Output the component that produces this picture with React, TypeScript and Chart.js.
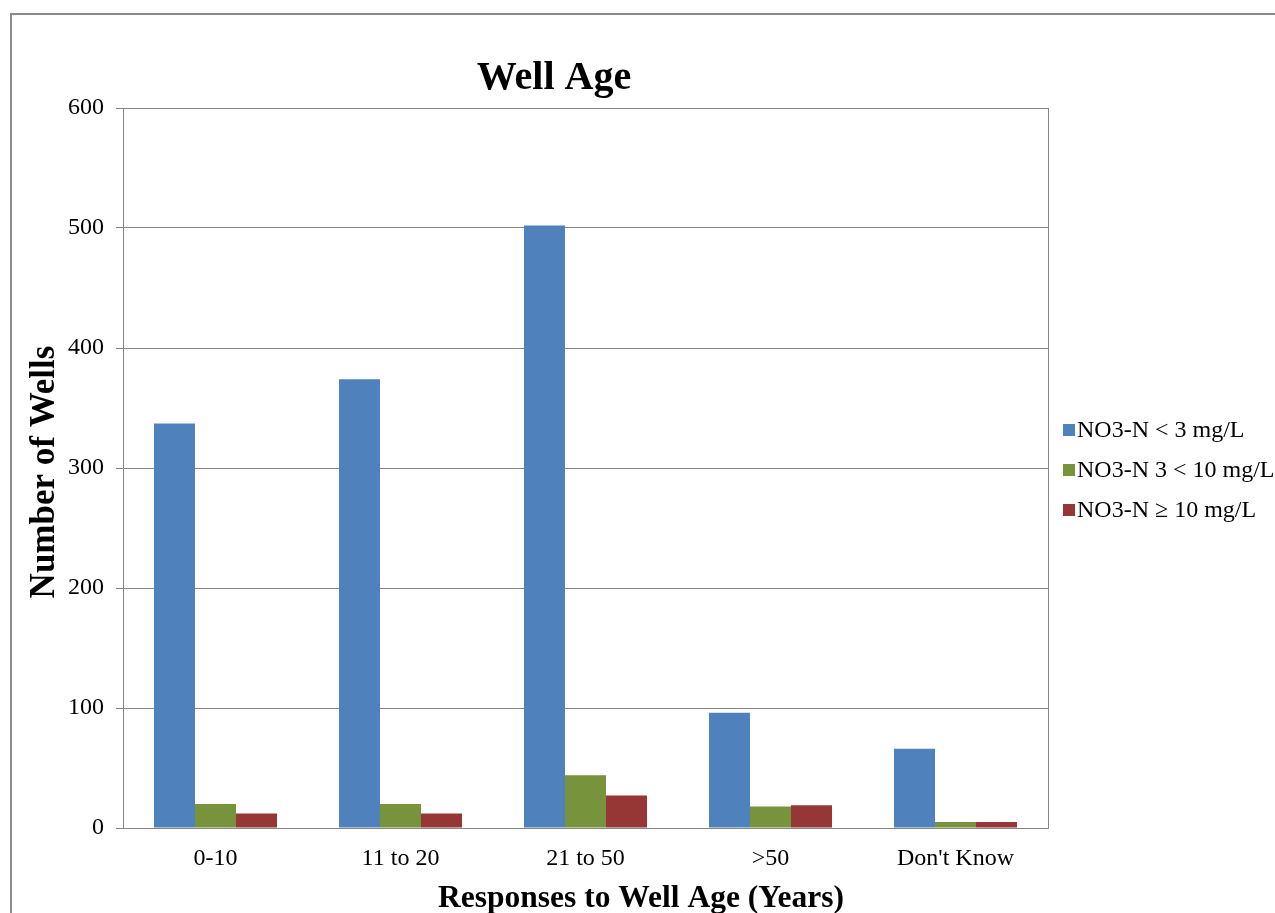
import React, { useEffect, useRef } from "react";
import { Chart, registerables } from "chart.js";

Chart.register(...registerables);

const categories = ["0-10", "11 to 20", "21 to 50", ">50", "Don't Know"];
const seriesNames = ["NO3-N < 3 mg/L", "NO3-N 3 < 10 mg/L", "NO3-N \u2265 10 mg/L"];
const lowValues = [337, 374, 502, 96, 66];
const midValues = [20, 20, 44, 18, 5];
const highValues = [12, 12, 27, 19, 5];
const seriesColors = ["#4f81bd", "#77933c", "#963735"];
const yTicks = [0, 100, 200, 300, 400, 500, 600];

const chartTitle = "Well Age";
const xTitle = "Responses to Well Age (Years)";
const yTitle = "Number of Wells";
const SERIF = "'Liberation Serif', 'Times New Roman', serif";

const decorPlugin = {
  id: "decor",
  afterDraw(chart: any) {
    const ctx = chart.ctx as CanvasRenderingContext2D;
    const a = chart.chartArea;
    ctx.save();
    // outer frame
    ctx.strokeStyle = "#8a8a8a";
    ctx.lineWidth = 2;
    ctx.beginPath();
    ctx.moveTo(11, 913);
    ctx.lineTo(11, 14);
    ctx.lineTo(1275, 14);
    ctx.stroke();
    // plot right border
    ctx.strokeStyle = "#868686";
    ctx.lineWidth = 1;
    ctx.beginPath();
    ctx.moveTo(Math.round(a.right) + 0.5, a.top);
    ctx.lineTo(Math.round(a.right) + 0.5, a.bottom);
    ctx.stroke();
    // title
    ctx.fillStyle = "#000";
    ctx.textAlign = "center";
    ctx.textBaseline = "alphabetic";
    ctx.font = `bold 40px ${SERIF}`;
    ctx.fillText(chartTitle, 554, 89);
    // x title
    ctx.font = `bold 31.5px ${SERIF}`;
    ctx.fillText(xTitle, 641, 907);
    // y title
    ctx.save();
    ctx.translate(54, 472);
    ctx.rotate(-Math.PI / 2);
    ctx.font = `bold 35px ${SERIF}`;
    ctx.fillText(yTitle, 0, 0);
    ctx.restore();
    // legend
    ctx.textAlign = "left";
    ctx.textBaseline = "middle";
    ctx.font = `24px ${SERIF}`;
    const rows = [430, 470, 510];
    seriesNames.forEach((name, i) => {
      ctx.fillStyle = seriesColors[i];
      ctx.fillRect(1063, rows[i] - 6, 12, 12);
      ctx.fillStyle = "#000";
      ctx.fillText(name, 1077, rows[i] + 1);
    });
    ctx.restore();
  },
};

export default function App() {
  const ref = useRef<HTMLCanvasElement | null>(null);
  useEffect(() => {
    if (!ref.current) return;
    const chart = new Chart(ref.current, {
      type: "bar",
      data: {
        labels: categories,
        datasets: [lowValues, midValues, highValues].map((d, i) => ({
          label: seriesNames[i],
          data: d,
          backgroundColor: seriesColors[i],
          categoryPercentage: 0.665,
          barPercentage: 1,
        })),
      },
      options: {
        responsive: false,
        animation: false,
        devicePixelRatio: 1,
        layout: { padding: { left: 0, top: 108, right: 227, bottom: 0 } },
        plugins: {
          legend: { display: false },
          title: { display: false },
          tooltip: { enabled: false },
        },
        scales: {
          x: {
            afterFit: (s: any) => {
              s.height = 85;
            },
            grid: { display: false, drawTicks: false },
            border: { display: true, color: "#868686" },
            ticks: {
              font: { family: SERIF, size: 24 },
              color: "#000",
              padding: 16,
              maxRotation: 0,
            },
          },
          y: {
            min: 0,
            max: 600,
            afterFit: (s: any) => {
              s.width = 123;
            },
            afterBuildTicks: (s: any) => {
              s.ticks = yTicks.map((v) => ({ value: v }));
            },
            grid: { color: "#868686", tickLength: 7 },
            border: { display: true, color: "#868686" },
            ticks: {
              font: { family: SERIF, size: 24 },
              color: "#000",
              padding: 12,
            },
          },
        },
      },
      plugins: [decorPlugin],
    });
    return () => chart.destroy();
  }, []);
  return (
    <div style={{ position: "fixed", left: 0, top: 0, width: 1275, height: 913, background: "#fff" }}>
      <canvas ref={ref} width={1275} height={913} style={{ width: 1275, height: 913, display: "block" }} />
    </div>
  );
}
